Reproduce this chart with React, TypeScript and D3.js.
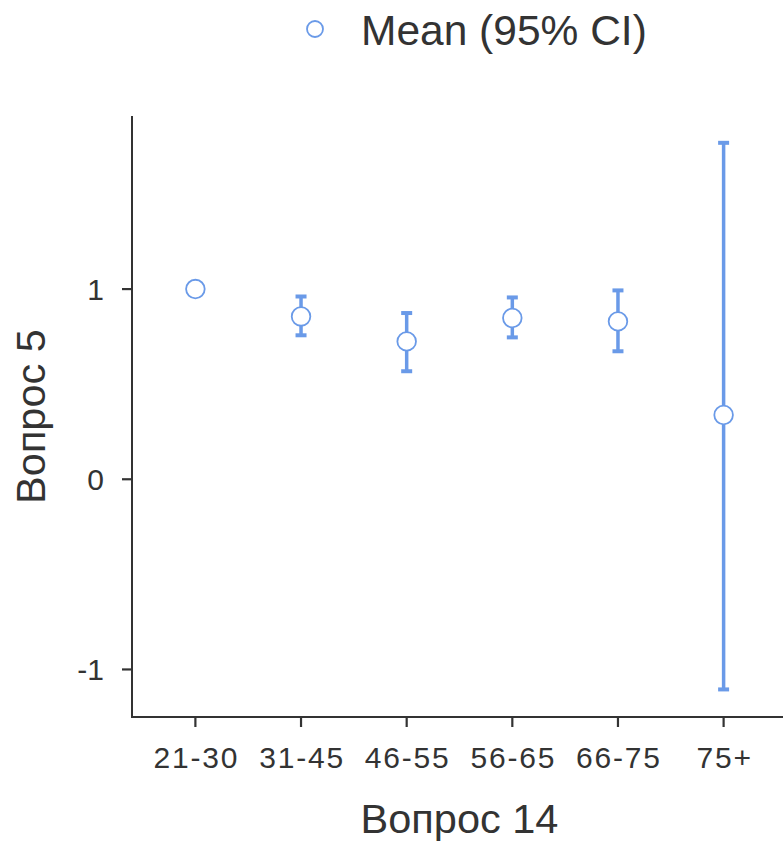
import React, { useEffect } from "react";
import * as d3 from "d3";

const categories = ["21-30", "31-45", "46-55", "56-65", "66-75", "75+"];
const means = [1.0, 0.856, 0.725, 0.848, 0.83, 0.338];
const lowerCI = [1.0, 0.757, 0.568, 0.746, 0.673, -1.105];
const upperCI = [1.0, 0.961, 0.874, 0.956, 0.993, 1.769];
const yTicks = [-1, 0, 1];
const legendLabel = "Mean (95% CI)";
const xTitle = "Вопрос 14";
const yTitle = "Вопрос 5";

const W = 783;
const H = 843;
const BLUE = "#6A9AE8";
const AXIS = "#333333";
const FONT = "'Liberation Sans', Arial, Helvetica, sans-serif";

export default function App() {
  useEffect(() => {
    document.body.style.margin = "0";
  }, []);

  const left = 132;
  const top = 116;
  const bottom = 717;

  const x = d3.scalePoint<string>().domain(categories).range([left, 787]).padding(0.6);
  const y = d3.scaleLinear().domain([-1.25, 1.91]).range([bottom, top]);

  const data = categories.map((c, i) => ({ c, m: means[i], lo: lowerCI[i], hi: upperCI[i] }));

  return (
    <svg width={W} height={H} style={{ position: "absolute", left: 0, top: 0, background: "#fff" }} fontFamily={FONT}>
      {/* legend */}
      <circle cx={315} cy={29} r={8} fill="#fff" stroke={BLUE} strokeWidth={1.8} />
      <text x={361} y={45} fontSize={42.5} fill={AXIS}>{legendLabel}</text>

      {/* y axis */}
      <line x1={left} x2={left} y1={top} y2={bottom + 1} stroke={AXIS} strokeWidth={2} />
      {yTicks.map((t) => (
        <g key={t}>
          <line x1={left - 10} x2={left} y1={y(t)} y2={y(t)} stroke={AXIS} strokeWidth={2.2} />
          <text x={left - 28} y={y(t)} dy="0.36em" textAnchor="end" fontSize={30} fill={AXIS}>{t}</text>
        </g>
      ))}

      {/* x axis */}
      <line x1={left - 1} x2={W} y1={bottom} y2={bottom} stroke={AXIS} strokeWidth={2} />
      {categories.map((c) => (
        <g key={c}>
          <line x1={x(c)} x2={x(c)} y1={bottom} y2={bottom + 10} stroke={AXIS} strokeWidth={2.2} />
          <text x={(x(c) as number) + 1} y={768} textAnchor="middle" fontSize={30} letterSpacing={1.8} fill={AXIS}>{c}</text>
        </g>
      ))}

      {/* titles */}
      <text x={(left + W) / 2 + 2} y={833} textAnchor="middle" fontSize={41.5} fill={AXIS}>{xTitle}</text>
      <text transform={`translate(45, ${(top + bottom) / 2}) rotate(-90)`} textAnchor="middle" fontSize={41.5} fill={AXIS}>{yTitle}</text>

      {/* error bars */}
      {data.map((d) =>
        d.hi - d.lo > 0 ? (
          <g key={"e" + d.c}>
            <line x1={x(d.c)} x2={x(d.c)} y1={y(d.hi)} y2={y(d.lo)} stroke={BLUE} strokeWidth={3.5} />
            <line x1={(x(d.c) as number) - 5.5} x2={(x(d.c) as number) + 5.5} y1={y(d.hi)} y2={y(d.hi)} stroke={BLUE} strokeWidth={4} />
            <line x1={(x(d.c) as number) - 5.5} x2={(x(d.c) as number) + 5.5} y1={y(d.lo)} y2={y(d.lo)} stroke={BLUE} strokeWidth={4} />
          </g>
        ) : null
      )}

      {/* means */}
      {data.map((d) => (
        <circle key={"m" + d.c} cx={x(d.c)} cy={y(d.m)} r={9.3} fill="#fff" stroke={BLUE} strokeWidth={1.8} />
      ))}
    </svg>
  );
}
